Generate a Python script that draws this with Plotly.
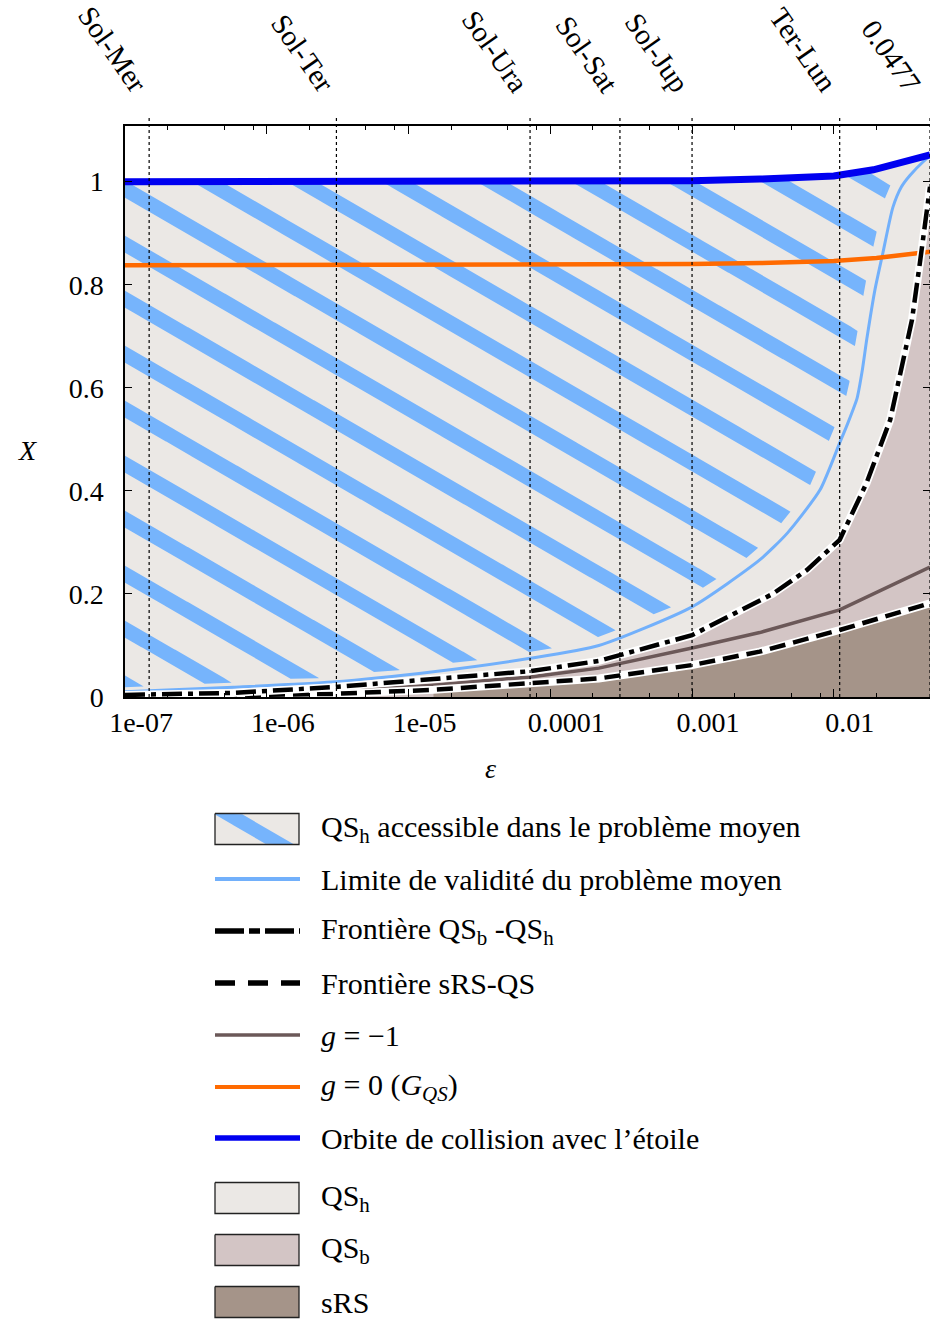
import numpy as np
import plotly.graph_objects as go

# ---------------- data ----------------
EPS_MIN, EPS_MAX = 1e-7, 0.0477
X_MAX = 1.108

EPS_TICKS = [1e-7, 1e-6, 1e-5, 1e-4, 1e-3, 1e-2]
EPS_TICK_TEXT = ["1e-07", "1e-06", "1e-05", "0.0001", "0.001", "0.01"]
EPS_MINOR_MANT = [2, 5, 8]
X_TICKS = [0, 0.2, 0.4, 0.6, 0.8, 1.0]
X_TICK_TEXT = ["0", "0.2", "0.4", "0.6", "0.8", "1"]

SYSTEMS = ["Sol-Mer", "Sol-Ter", "Sol-Ura", "Sol-Sat", "Sol-Jup", "Ter-Lun", "0.0477"]
SYSTEM_EPS = [1.48e-7, 3.1e-6, 7.2e-5, 3.1e-4, 1.0e-3, 1.1e-2, 0.0477]

# collision orbit with the star (blue)
EPS_COL = [1e-7, 1e-4, 1e-3, 3e-3, 1e-2, 1.9e-2, 2.5e-2, 3e-2, 4.77e-2]
X_COL = [1.0, 1.0, 1.002, 1.005, 1.011, 1.023, 1.032, 1.040, 1.052]

# g = 0 (G_QS)
EPS_G0 = [1e-7, 1e-4, 1e-3, 3e-3, 1e-2, 2e-2, 3e-2, 4.77e-2]
X_G0 = [0.838, 0.838, 0.840, 0.842, 0.846, 0.852, 0.857, 0.864]

# validity limit of the averaged problem
EPS_VAL = [1e-7, 5.8e-7, 2.9e-6, 1.5e-5, 7.2e-5, 2.2e-4, 1e-3, 3e-3, 4.7e-3,
           8e-3, 1.1e-2, 1.25e-2, 1.46e-2, 1.58e-2, 1.71e-2, 1.95e-2, 2.22e-2,
           2.61e-2, 3.0e-2, 3.44e-2, 4.4e-2, 4.77e-2]
X_VAL = [0.010, 0.019, 0.029, 0.049, 0.075, 0.100, 0.175, 0.266, 0.318,
         0.402, 0.493, 0.530, 0.580, 0.630, 0.695, 0.790, 0.862,
         0.950, 0.990, 1.012, 1.042, 1.050]

# QSb - QSh boundary (dash-dot)
EPS_BH = [1e-7, 5.8e-7, 2.9e-6, 1.5e-5, 7.2e-5, 2.2e-4, 1e-3, 3.7e-3, 6.5e-3,
          1.1e-2, 1.7e-2, 2.5e-2, 2.9e-2, 3.56e-2, 4.05e-2, 4.6e-2, 4.77e-2]
X_BH = [0.004, 0.008, 0.019, 0.035, 0.050, 0.070, 0.120, 0.200, 0.247,
        0.305, 0.415, 0.538, 0.620, 0.732, 0.843, 0.970, 0.990]

# g = -1
EPS_GM1 = [1e-7, 5.8e-7, 2.9e-6, 1.5e-5, 7.2e-5, 2.2e-4, 1e-3, 3e-3, 1.1e-2, 2.1e-2, 4.77e-2]
X_GM1 = [0.003, 0.005, 0.010, 0.023, 0.039, 0.056, 0.095, 0.125, 0.169, 0.205, 0.252]

# sRS - QS boundary (dashed)
EPS_RS = [1e-7, 2.9e-6, 1.5e-5, 7.2e-5, 2.2e-4, 1e-3, 3e-3, 1.1e-2, 2.1e-2, 4.77e-2]
X_RS = [0.001, 0.006, 0.014, 0.026, 0.036, 0.062, 0.088, 0.130, 0.152, 0.182]
EPS_SRS_START = 1.5e-5

# ---------------- style ----------------
C_QSH = "#ebe8e5"
C_QSB = "#d3c5c5"
C_SRS = "#a59489"
C_HATCH = "#76b4fc"
C_VAL = "#72b0fb"
C_BLUE = "#0000f0"
C_ORANGE = "#ff6a00"
C_BROWN = "#6b5858"
FONT = "Liberation Serif"

# hatch geometry (y units, per decade)
H_SLOPE = 0.1595
H_PERIOD = 0.1067
H_WIDTH = 0.033
H_PHASE = 0.025
H_UGAP = 0.07
H_YGAP = 0.008

W, H = 930, 1319
ML, MT = 125, 126
PLOT_H = H - MT
Y_DOM0 = (H - 697) / PLOT_H

fig = go.Figure()

lx = lambda a: np.log10(np.asarray(a, dtype=float))

# ---- fills ----
fig.add_trace(go.Scatter(x=EPS_COL, y=X_COL, mode="lines", line=dict(width=0),
                         fill="tozeroy", fillcolor=C_QSH, showlegend=False, hoverinfo="skip"))
fig.add_trace(go.Scatter(x=EPS_BH, y=X_BH, mode="lines", line=dict(width=0),
                         fill="tozeroy", fillcolor=C_QSB, showlegend=False, hoverinfo="skip"))
srs_u = np.linspace(np.log10(EPS_SRS_START), np.log10(EPS_MAX), 200)
srs_y = np.interp(srs_u, lx(EPS_RS), X_RS)
fig.add_trace(go.Scatter(x=10 ** srs_u, y=srs_y, mode="lines", line=dict(width=0),
                         fill="tozeroy", fillcolor=C_SRS, showlegend=False, hoverinfo="skip"))

# ---- hatching of accessible QSh region ----
u = np.linspace(np.log10(EPS_MIN), np.log10(EPS_MAX), 2500)
top = np.interp(u, lx(EPS_COL), X_COL)
low = np.interp(u + H_UGAP, lx(EPS_VAL), X_VAL) + H_YGAP
hx, hy = [], []
for k in range(0, 40):
    c = H_PHASE + k * H_PERIOD - H_SLOPE * (u - np.log10(EPS_MIN))
    hi = np.minimum(c + H_WIDTH / 2, top)
    lo = np.maximum(c - H_WIDTH / 2, low)
    idx = np.where(hi > lo)[0]
    if idx.size == 0:
        continue
    runs = np.split(idx, np.where(np.diff(idx) > 1)[0] + 1)
    for r in runs:
        if r.size < 2:
            continue
        xs = 10 ** u[r]
        hx += list(xs) + list(xs[::-1]) + [None]
        hy += list(hi[r]) + list(lo[r][::-1]) + [None]
fig.add_trace(go.Scatter(x=hx, y=hy, mode="lines", line=dict(width=0), fill="toself",
                         fillcolor=C_HATCH, showlegend=False, hoverinfo="skip"))

# ---- lines ----
fig.add_trace(go.Scatter(x=EPS_VAL, y=X_VAL, mode="lines",
                         line=dict(color=C_VAL, width=3, shape="spline", smoothing=0.6),
                         showlegend=False))
fig.add_trace(go.Scatter(x=EPS_GM1, y=X_GM1, mode="lines", line=dict(color=C_BROWN, width=3.5),
                         showlegend=False))
fig.add_trace(go.Scatter(x=EPS_G0, y=X_G0, mode="lines", line=dict(color=C_ORANGE, width=4.5),
                         showlegend=False))
DASHDOT = "20px,6px,5px,6px"
DASHED = "16px,8px"
for ex, yy, dash in [(EPS_RS, X_RS, DASHED), (EPS_BH, X_BH, DASHDOT)]:
    fig.add_trace(go.Scatter(x=ex, y=yy, mode="lines", line=dict(color="white", width=8),
                             showlegend=False))
    fig.add_trace(go.Scatter(x=ex, y=yy, mode="lines",
                             line=dict(color="black", width=4.5, dash=dash), showlegend=False))
fig.add_trace(go.Scatter(x=EPS_COL, y=X_COL, mode="lines", line=dict(color=C_BLUE, width=7),
                         showlegend=False))

# ---- system markers ----
top_paper = (H - 115) / PLOT_H
lab_paper = (H - 101) / PLOT_H
LAB_SHIFT = [7, 7, 7, 7, 7, 7, 0]
for name, e, xs_ in zip(SYSTEMS, SYSTEM_EPS, LAB_SHIFT):
    fig.add_shape(type="line", xref="x", yref="paper", x0=e, x1=e, y0=Y_DOM0, y1=top_paper,
                  line=dict(color="black", width=1.2, dash="dot"), layer="above")
    fig.add_annotation(x=np.log10(e), xref="x", y=lab_paper, yref="paper", text=name,
                       showarrow=False, textangle=55, xanchor="right", yanchor="bottom",
                       xshift=xs_, font=dict(family=FONT, size=29, color="black"))

# ---- axis titles ----
fig.add_annotation(x=(16 - ML) / (W - ML), y=(H - 433) / PLOT_H, xref="paper", yref="paper",
                   text="<i>X</i>", showarrow=False, font=dict(family=FONT, size=28))
fig.add_annotation(x=(490 - ML) / (W - ML), y=(H - 768) / PLOT_H, xref="paper", yref="paper",
                   text="<i>ε</i>", showarrow=False, font=dict(family=FONT, size=28))

# ---------------- legend (drawn on a hidden pixel-unit axis) ----------------
LEG_TOP = 782
LEG_X0, LEG_X1, LEG_TX = 215, 299, 319
ROWS = [829, 879, 931, 983, 1035, 1087, 1138, 1198, 1250, 1302]
BOX_H = 31
leg_items = [
    ("hatch", None, "QS<sub>h</sub> accessible dans le problème moyen"),
    ("line", dict(color=C_VAL, width=4), "Limite de validité du problème moyen"),
    ("dline", dict(color="black", width=5.5, dash="29px,5px,11px,5px"), "Frontière QS<sub>b</sub> -QS<sub>h</sub>"),
    ("dline", dict(color="black", width=5.5, dash="20px,13px"), "Frontière sRS-QS"),
    ("line", dict(color=C_BROWN, width=3.5), "<i>g</i> = −1"),
    ("line", dict(color=C_ORANGE, width=4), "<i>g</i> = 0 (<i>G</i><sub><i>QS</i></sub>)"),
    ("line", dict(color=C_BLUE, width=5.5), "Orbite de collision avec l’étoile"),
    ("box", C_QSH, "QS<sub>h</sub>"),
    ("box", C_QSB, "QS<sub>b</sub>"),
    ("box", C_SRS, "sRS"),
]
LK = dict(xaxis="x2", yaxis="y2", showlegend=False, hoverinfo="skip")
for (kind, sty, label), yc in zip(leg_items, ROWS):
    if kind in ("line", "dline"):
        fig.add_trace(go.Scatter(x=[LEG_X0, LEG_X1 + 1], y=[yc, yc], mode="lines", line=sty, **LK))
    else:
        y0, y1 = yc - BOX_H / 2, yc + BOX_H / 2
        bx = [LEG_X0, LEG_X1, LEG_X1, LEG_X0, LEG_X0]
        by = [y0, y0, y1, y1, y0]
        fill = C_QSH if kind == "hatch" else sty
        fig.add_trace(go.Scatter(x=bx, y=by, mode="lines", fill="toself", fillcolor=fill,
                                 line=dict(width=0), **LK))
        if kind == "hatch":
            px = np.linspace(LEG_X0, LEG_X1, 300)
            cl = y0 + 0.58 * (px - (LEG_X0 + 12))
            hi = np.maximum(cl - 8, y0)
            lo = np.minimum(cl + 8, y1)
            ok = lo > hi
            sxp = px[ok]
            fig.add_trace(go.Scatter(x=list(sxp) + list(sxp[::-1]),
                                     y=list(hi[ok]) + list(lo[ok][::-1]),
                                     mode="lines", fill="toself", fillcolor=C_HATCH,
                                     line=dict(width=0), **LK))
        fig.add_trace(go.Scatter(x=bx, y=by, mode="lines", line=dict(color="#222", width=1.3), **LK))
    fig.add_annotation(x=LEG_TX, y=yc, xref="x2", yref="y2", text=label, showarrow=False,
                       xanchor="left", yanchor="middle", font=dict(family=FONT, size=30, color="black"))

# ---------------- layout ----------------
minor_vals = [m * 10.0 ** p for p in range(-7, -1) for m in EPS_MINOR_MANT]
fig.update_layout(
    width=W, height=H,
    margin=dict(l=ML, r=0, t=MT, b=0, pad=0, autoexpand=False),
    paper_bgcolor="white", plot_bgcolor="white",
    showlegend=False,
    font=dict(family=FONT, size=28, color="black"),
    xaxis=dict(type="log", range=[np.log10(EPS_MIN), np.log10(EPS_MAX)],
               domain=[0, 1], anchor="y", automargin=False,
               tickmode="array", tickvals=EPS_TICKS, ticktext=EPS_TICK_TEXT,
               ticks="inside", ticklen=8, tickwidth=1.3, tickcolor="black",
               ticklabelshift=16, ticklabelstandoff=0,
               minor=dict(tickmode="array", tickvals=minor_vals, ticks="inside",
                          ticklen=4, tickwidth=1.3, tickcolor="black", showgrid=False),
               showline=True, linecolor="black", linewidth=1.5, mirror="ticks",
               showgrid=False, zeroline=False,
               tickfont=dict(family=FONT, size=28, color="black")),
    yaxis=dict(range=[0, X_MAX], domain=[Y_DOM0, 1], anchor="x", automargin=False,
               tickmode="array", tickvals=X_TICKS, ticktext=X_TICK_TEXT,
               ticks="inside", ticklen=7, tickwidth=1.3, tickcolor="black",
               ticklabelstandoff=14,
               showline=True, linecolor="black", linewidth=1.5, mirror="ticks",
               showgrid=False, zeroline=False,
               tickfont=dict(family=FONT, size=28, color="black")),
    xaxis2=dict(range=[ML, W], domain=[0, 1], anchor="y2", visible=False, automargin=False),
    yaxis2=dict(range=[H, LEG_TOP], domain=[0, (H - LEG_TOP) / PLOT_H], anchor="x2",
                visible=False, automargin=False),
)

fig.write_html("out.html")
